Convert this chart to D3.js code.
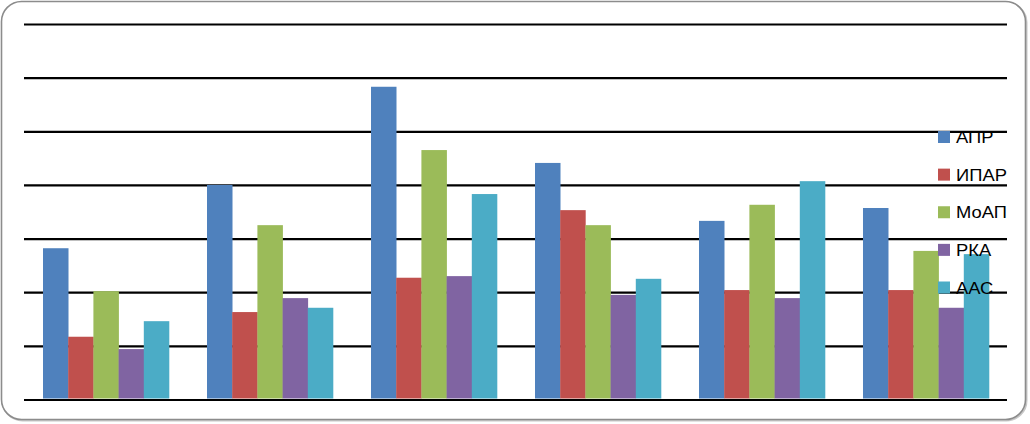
<!DOCTYPE html>
<html><head><meta charset="utf-8">
<script src="https://cdn.jsdelivr.net/npm/d3@7"></script>
<style>html,body{margin:0;padding:0;background:#fff;overflow:hidden}</style>
</head><body>
<svg id="chart" width="1030" height="424"></svg>
<script>
const groups = ["G1","G2","G3","G4","G5","G6"];
const seriesNames = ["АПР","ИПАР","МоАП","РКА","ААС"];
const seriesColors = ["#4F81BD","#C0504D","#9BBB59","#8064A2","#4BACC6"];
const valAPR  = [2.82, 4.00, 5.83, 4.41, 3.33, 3.57];
const valIPAR = [1.17, 1.63, 2.27, 3.53, 2.04, 2.04];
const valMoAP = [2.02, 3.25, 4.65, 3.25, 3.63, 2.77];
const valRKA  = [0.94, 1.89, 2.30, 1.95, 1.89, 1.71];
const valAAC  = [1.46, 1.71, 3.83, 2.25, 4.07, 2.71];
const gridTicks = [0,1,2,3,4,5,6,7];
const seriesValues = [valAPR, valIPAR, valMoAP, valRKA, valAAC];

const svg = d3.select("#chart");
// frame
svg.append("rect").attr("x",2.5).attr("y",2.5).attr("width",1024).attr("height",418)
  .attr("rx",20).attr("fill","none").attr("stroke","#c8c8c8").attr("stroke-width",2);
svg.append("rect").attr("x",1.5).attr("y",1.5).attr("width",1024).attr("height",418)
  .attr("rx",20).attr("fill","#fff").attr("stroke","#8c8c8c").attr("stroke-width",1.6);

const x0 = d3.scaleBand().domain(groups).range([24,1008]).paddingInner(0.2317).paddingOuter(0.1159);
const x1 = d3.scaleBand().domain(seriesNames).range([0,x0.bandwidth()]);
const y = d3.scaleLinear().domain([0,7]).range([399.5,24]);

const yAxis = d3.axisLeft(y).tickValues(gridTicks).tickSize(-(1007-24)).tickFormat("");
const ga = svg.append("g").attr("transform","translate(24,0)").call(yAxis);
ga.select(".domain").remove();
ga.selectAll(".tick line").attr("stroke","#000").attr("stroke-width",2.2);

const table = [];
groups.forEach((g,gi)=>seriesNames.forEach((s,si)=>table.push({g,s,si,v:seriesValues[si][gi]})));
svg.append("g").selectAll("rect").data(table).join("rect")
  .attr("x",d=>x0(d.g)+x1(d.s))
  .attr("width",x1.bandwidth()+0.3)
  .attr("y",d=>y(d.v))
  .attr("height",d=>y(0)-1-y(d.v))
  .attr("fill",d=>seriesColors[d.si]);

const legend = svg.append("g");
const ly = d3.scalePoint().domain(seriesNames).range([137,287.5]);
const li = legend.selectAll("g").data(seriesNames).join("g")
  .attr("transform",d=>`translate(938,${ly(d)})`);
li.append("rect").attr("x",0).attr("y",-6).attr("width",12).attr("height",12)
  .attr("fill",(d,i)=>seriesColors[i]);
li.append("text").attr("x",0).attr("y",0).attr("dy","0.36em")
  .attr("transform","translate(18,0) scale(1.08,1)")
  .attr("font-family","Liberation Sans, Arial, sans-serif").attr("font-size",17)
  .attr("fill","#000").text(d=>d);
</script>
</body></html>
